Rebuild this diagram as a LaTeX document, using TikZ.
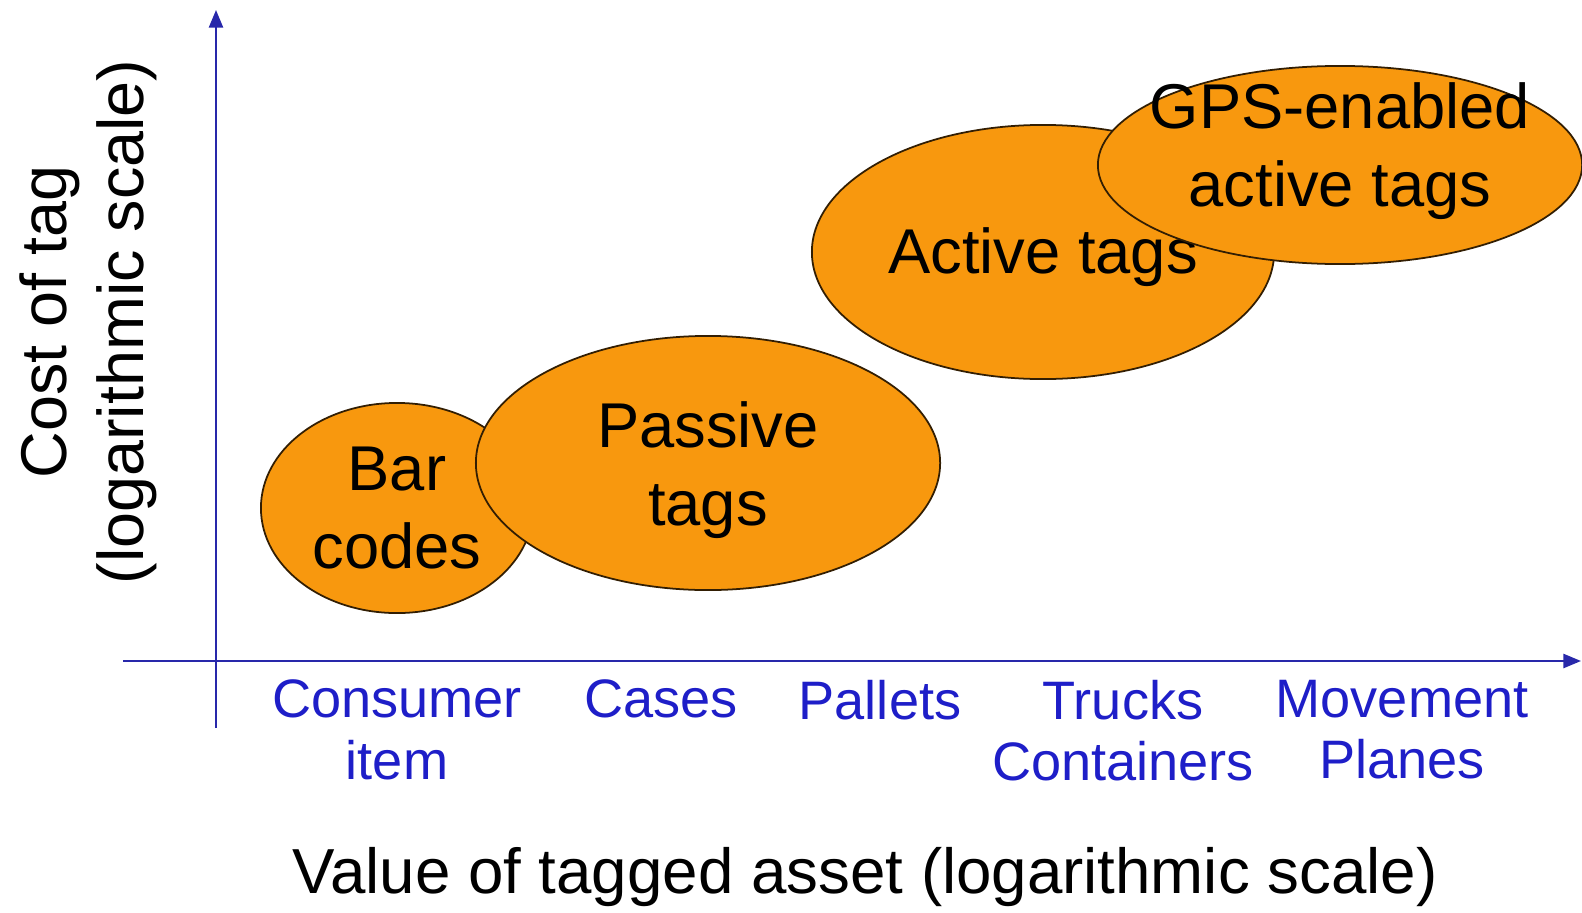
\documentclass[tikz,border=0pt]{standalone}
\usepackage{fontspec}
\setmainfont{Liberation Sans}
\usetikzlibrary{arrows.meta,shapes.geometric}
\definecolor{tagorange}{RGB}{248,152,14}
\definecolor{axisblue}{RGB}{40,40,170}
\definecolor{catblue}{RGB}{30,30,200}
\begin{document}
\begin{tikzpicture}[x=0.01cm,y=-0.01cm,line width=0.6pt,>={Triangle[length=5pt,width=4pt]},
	tagblob/.style={ellipse,draw=black!80!tagorange,line width=0.5pt,fill=tagorange,inner sep=0pt,align=center,font=\fontsize{18}{22}\selectfont},
	tagtext/.style={align=center,font=\fontsize{18}{22}\selectfont},
	category/.style={text=catblue,align=center,anchor=north,font=\fontsize{15.4}{17.6}\selectfont},
	axislabel/.style={align=center,font=\fontsize{18.4}{22}\selectfont}]
	\useasboundingbox (0,0) rectangle (1582,912);
	% axes
	\draw[->,axisblue] (216,728)--(216,10);
	\draw[->,axisblue] (123,661)--(1581,661);
	% tag technologies
	\node[tagblob,minimum width=2.72cm,minimum height=2.10cm] (barcodes) at (397,508) {Bar\\codes};
	\node[tagblob,minimum width=4.64cm,minimum height=2.54cm] (passive) at (708,463) {};
	\node[tagtext] (passivetext) at (708,470) {Passive\\tags};
	\node[tagblob,minimum width=4.62cm,minimum height=2.54cm] (active) at (1043,252) {};
	\node[tagtext] (activetext) at (1043,257) {Active tags};
	\node[tagblob,minimum width=4.84cm,minimum height=1.98cm] (gps) at (1340,165) {};
	\node[tagtext] (gpstext) at (1340,151) {GPS-enabled\\active tags};
	% asset categories
	\node[category] (consumer) at (397,667) {Consumer\\item};
	\node[category] (cases) at (661,667) {Cases};
	\node[category] (pallets) at (880,667) {Pallets};
	\node[category] (trucks) at (1123,667) {Trucks\\Containers};
	\node[category] (movement) at (1402,667) {Movement\\Planes};
	% axis titles
	\node[axislabel,rotate=90] (costlabel) at (88,322) {Cost of tag\\(logarithmic scale)};
	\node[axislabel] (valuelabel) at (865,877) {\fontsize{18.1}{22}\selectfont Value of tagged asset (logarithmic scale)};
\end{tikzpicture}
\end{document}
